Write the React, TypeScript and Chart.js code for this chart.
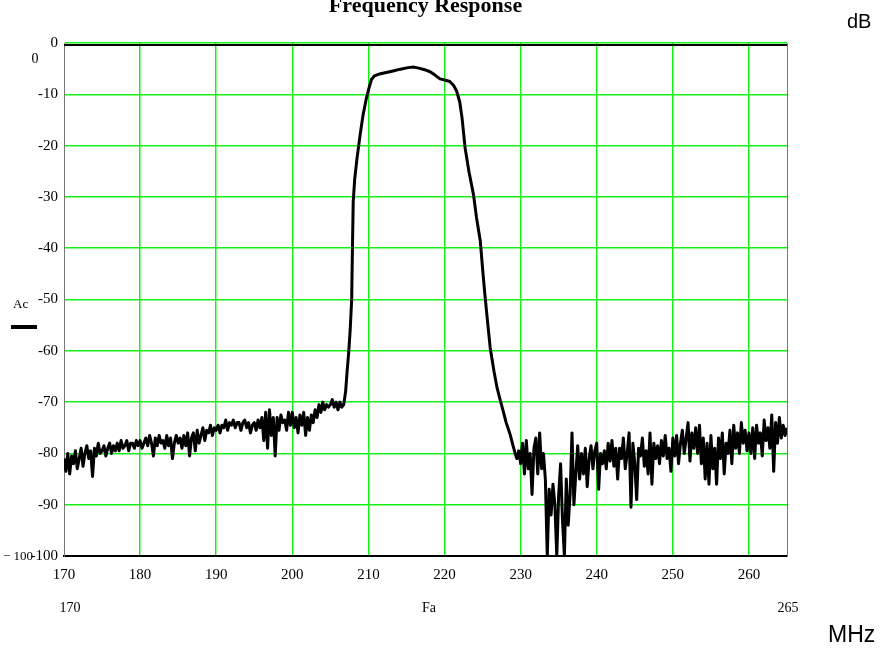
import React, { useEffect, useRef } from "react";
import { Chart, registerables } from "chart.js";

Chart.register(...registerables);

// ---- data ----
const lowStartMHz = 170;
const highStartMHz = 229.5;
const sampleStepMHz = 0.25;

const lowBandNoiseDb = [
  -81, -83.5, -80, -84,
  -80.5, -82, -79.5, -83,
  -81, -79, -82.5, -80,
  -78.5, -81, -79.5, -84.5,
  -79, -80.5, -78, -80,
  -79.5, -78.5, -80.5, -79,
  -78, -80, -78.5, -79.5,
  -78, -79.5, -77.5, -79,
  -78.5, -77.5, -79.5, -78,
  -78, -79, -77.5, -78.5,
  -77.5, -79, -78, -77,
  -78.5, -76.5, -78, -80.5,
  -77, -78.5, -76.5, -78,
  -77.5, -79, -76.5, -78.5,
  -77, -81, -78, -76.5,
  -78, -77, -79, -76.5,
  -78.5, -76, -80.5, -77,
  -76, -79.5, -75.5, -78,
  -76.5, -75, -77.5, -75.5,
  -76, -74.5, -76.5, -75,
  -75.5, -74.5, -76, -74.5,
  -75, -73.5, -75.5, -74,
  -74.5, -73.5, -75, -74,
  -74, -75.5, -74, -73.5,
  -75, -74, -76, -74.5,
  -74, -75.5, -73.5, -75,
  -73, -77.5, -72, -79,
  -71.5, -76.5, -73, -80.5,
  -73, -75.5, -72.5, -74,
  -73.5, -75.5, -72, -74.5,
  -72, -75, -73, -76,
  -72.5, -74.5, -72, -76.5,
  -73, -75.5, -72.5, -74,
  -71.5, -73, -70.5, -72,
  -70, -71.5, -70.5, -71,
  -70.5, -69.5, -71, -70,
  -71.5, -70, -71, -70.5,
];

const passbandMHz = [
  207.0, 207.2, 207.4, 207.6, 207.8, 207.9, 208.0, 208.2, 208.5, 208.9,
  209.3, 209.7, 210.0, 210.4, 210.8, 211.3, 212.2, 213.1, 214.2, 215.2,
  216.0, 216.6, 217.4, 218.1, 218.8, 219.4, 220.0, 220.7, 221.2, 221.6,
  222.0, 222.3, 222.7, 223.2, 223.8, 224.2, 224.7, 225.0, 225.3, 225.7,
  226.0, 226.5, 226.9, 227.3, 227.7, 228.1, 228.6, 229.0, 229.3,
];
const passbandDb = [
  -68, -64, -60.5, -56, -50, -40, -31, -26.5, -22.5, -18,
  -14, -11, -9.2, -7.1, -6.4, -6.1, -5.8, -5.5, -5.1, -4.8,
  -4.7, -4.9, -5.2, -5.6, -6.3, -7.0, -7.2, -7.5, -8.3, -9.4,
  -11.5, -14.6, -20.4, -25, -29.5, -34, -38.6, -44, -49, -55,
  -59.4, -64, -67.2, -69.5, -71.7, -74, -76.2, -78.5, -80.1,
];

const highBandNoiseDb = [
  -81, -79.5,
  -82, -78, -84, -77.5,
  -83, -80, -88, -79,
  -77, -84, -76, -83,
  -80, -85, -100, -87,
  -92, -86, -90, -100,
  -88, -82, -93, -100,
  -85, -94, -88, -76,
  -90, -84, -78.5, -85,
  -80, -84, -79, -86.5,
  -81, -78.5, -83, -79.5,
  -78, -87, -80, -82,
  -79.5, -83, -78, -81.5,
  -77.5, -82.5, -79, -85,
  -79, -81, -77, -83,
  -80, -76, -90.5, -78,
  -82, -89, -79, -80.5,
  -77, -82.5, -79.5, -84,
  -76, -86, -78, -81,
  -78.5, -82, -77.5, -80.5,
  -76.5, -81, -79, -83.5,
  -77, -80.5, -76.5, -82,
  -78, -75.5, -80, -77,
  -74, -81.5, -76, -79,
  -75, -80, -74.5, -82,
  -77, -85, -78, -86,
  -76.5, -83, -79, -86,
  -77, -81, -76, -84,
  -78, -80, -75.5, -82,
  -74.5, -79, -76, -80,
  -74, -78, -75.5, -79.5,
  -76, -80, -75, -81,
  -74.5, -78, -76, -80.5,
  -73.5, -77.5, -75, -79,
  -72.5, -83.5, -74, -78,
  -73, -77, -74.5, -76.5,
  -75,
];

const xTickValues = [170, 180, 190, 200, 210, 220, 230, 240, 250, 260];
const yTickValues = [-100, -90, -80, -70, -60, -50, -40, -30, -20, -10, 0];

const titleText = "Frequency Response";
const yUnitText = "dB";
const xUnitText = "MHz";
const seriesName = "Ac";
const xAxisName = "Fa";

function buildPoints() {
  const pts: { x: number; y: number }[] = [];
  lowBandNoiseDb.forEach((v, i) => pts.push({ x: lowStartMHz + i * sampleStepMHz, y: v }));
  passbandMHz.forEach((f, i) => pts.push({ x: f, y: passbandDb[i] }));
  highBandNoiseDb.forEach((v, i) => pts.push({ x: highStartMHz + i * sampleStepMHz, y: v }));
  return pts;
}

const GRID_GREEN = "#14ef14";

const extrasPlugin = {
  id: "extras",
  afterDraw(chart: any) {
    const ctx = chart.ctx as CanvasRenderingContext2D;
    const a = chart.chartArea;
    ctx.save();
    // black top border under the 0 dB grid line
    ctx.strokeStyle = "#000";
    ctx.lineWidth = 2;
    ctx.beginPath();
    ctx.moveTo(a.left, a.top + 2);
    ctx.lineTo(a.right, a.top + 2);
    ctx.stroke();
    // right border
    ctx.strokeStyle = "#777";
    ctx.lineWidth = 1;
    ctx.beginPath();
    ctx.moveTo(a.right + 0.5, a.top);
    ctx.lineTo(a.right + 0.5, a.bottom);
    ctx.stroke();

    ctx.fillStyle = "#000";
    // title
    ctx.font = "bold 22px 'Liberation Serif'";
    ctx.textAlign = "center";
    ctx.textBaseline = "alphabetic";
    ctx.fillText(titleText, (a.left + a.right) / 2, 12);

    // units
    ctx.font = "20px 'Liberation Sans'";
    ctx.textAlign = "left";
    ctx.fillText(yUnitText, 847, 28);
    ctx.font = "23px 'Liberation Sans'";
    ctx.fillText(xUnitText, 828, 642);

    // series legend
    ctx.font = "13px 'Liberation Serif'";
    ctx.fillText(seriesName, 13, 308);
    ctx.strokeStyle = "#000";
    ctx.lineWidth = 4;
    ctx.beginPath();
    ctx.moveTo(11, 327);
    ctx.lineTo(37, 327);
    ctx.stroke();

    // axis limit labels
    const yScale = chart.scales.y;
    const xScale = chart.scales.x;
    ctx.font = "14px 'Liberation Serif'";
    ctx.textAlign = "center";
    ctx.fillText(String(yScale.max), 35, 63);
    ctx.textAlign = "right";
    ctx.font = "13px 'Liberation Serif'";
    ctx.fillText("\u2212 " + String(Math.abs(yScale.min)), 33, 560);
    ctx.font = "14px 'Liberation Serif'";
    ctx.textAlign = "center";
    ctx.fillText(String(xScale.min), 70, 612);
    ctx.fillText(xAxisName, 429, 612);
    ctx.fillText(String(xScale.max), 788, 612);
    ctx.restore();
  },
};

export default function App() {
  const ref = useRef<HTMLCanvasElement>(null);

  useEffect(() => {
    if (!ref.current) return;
    const chart = new Chart(ref.current, {
      type: "line",
      data: {
        datasets: [
          {
            label: seriesName,
            data: buildPoints(),
            borderColor: "#000",
            borderWidth: 3,
            borderJoinStyle: "round",
            pointRadius: 0,
            tension: 0,
            fill: false,
          },
        ],
      },
      options: {
        responsive: false,
        animation: false,
        events: [],
        layout: { padding: { left: 0, top: 43, right: 109, bottom: 0 } },
        plugins: {
          legend: { display: false },
          title: { display: false },
          tooltip: { enabled: false },
        },
        scales: {
          x: {
            type: "linear",
            min: 170,
            max: 265,
            afterFit: (s: any) => {
              s.height = 93;
            },
            afterBuildTicks: (s: any) => {
              s.ticks = xTickValues.map((v) => ({ value: v }));
            },
            ticks: {
              color: "#000",
              padding: 10,
              maxRotation: 0,
              autoSkip: false,
              font: { family: "'Liberation Serif'", size: 15 },
            },
            grid: {
              drawTicks: false,
              lineWidth: 1.5,
              color: (c: any) => (c.tick && c.tick.value === 170 ? "rgba(0,0,0,0)" : GRID_GREEN),
            },
            border: { display: true, color: "#000", width: 2 },
          },
          y: {
            type: "linear",
            min: -100,
            max: 0,
            afterFit: (s: any) => {
              s.width = 64;
            },
            afterBuildTicks: (s: any) => {
              s.ticks = yTickValues.map((v) => ({ value: v }));
            },
            ticks: {
              color: "#000",
              padding: 6,
              autoSkip: false,
              font: { family: "'Liberation Serif'", size: 15 },
            },
            grid: {
              drawTicks: false,
              lineWidth: 1.5,
              color: (c: any) => (c.tick && c.tick.value === -100 ? "rgba(0,0,0,0)" : GRID_GREEN),
            },
            border: { display: true, color: "#777", width: 1 },
          },
        },
      },
      plugins: [extrasPlugin],
    });
    return () => chart.destroy();
  }, []);

  return (
    <div style={{ position: "absolute", left: 0, top: 0, width: 896, height: 649, background: "#fff" }}>
      <canvas ref={ref} width={896} height={649} style={{ width: 896, height: 649, display: "block" }} />
    </div>
  );
}
